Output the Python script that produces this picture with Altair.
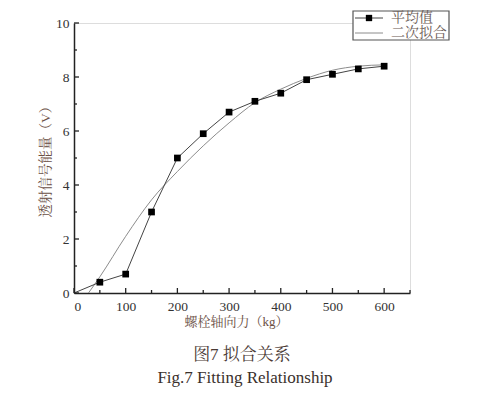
import altair as alt
import pandas as pd

# --- data ---
force = [0, 50, 100, 150, 200, 250, 300, 350, 400, 450, 500, 550, 600]
mean_vals = [0, 0.4, 0.7, 3.0, 5.0, 5.9, 6.7, 7.1, 7.4, 7.9, 8.1, 8.3, 8.4]

fit_force = [28, 50, 100, 150, 200, 250, 300, 350, 400, 450, 500, 550, 600]
fit_vals = [0, 0.6, 2.1, 3.45, 4.5, 5.45, 6.3, 7.05, 7.55, 7.95, 8.25, 8.4, 8.45]

x_major = [0, 100, 200, 300, 400, 500, 600]
x_minor = [50, 150, 250, 350, 450, 550, 650]
y_major = [0, 2, 4, 6, 8, 10]
y_minor = [1, 3, 5, 7, 9]

legend_labels = ["平均值", "二次拟合"]
captions = ["图7  拟合关系", "Fig.7  Fitting  Relationship"]
x_title = "螺栓轴向力（kg）"
y_title = "透射信号能量（V）"

W, H = 336, 270
SERIF = 'Liberation Serif, "Noto Serif CJK SC", "Noto Sans CJK SC", serif'
TITLE_COLOR = "#6b4f45"

xs = alt.Scale(domain=[0, 650], nice=False, zero=False)
ys = alt.Scale(domain=[0, 10], nice=False, zero=False)

x_axis = alt.Axis(values=x_major, title=x_title, ticks=False, grid=False,
                  labelFont=SERIF, labelFontSize=13.5, labelColor="#333",
                  labelPadding=6, titleFont=SERIF, titleFontSize=13,
                  titleFontWeight="normal", titleColor=TITLE_COLOR, titlePadding=3,
                  titleX=W / 2 - 6,
                  domainColor="#222", domainWidth=1.5)
y_axis = alt.Axis(values=y_major, title=y_title, ticks=False, grid=False,
                  labelFont=SERIF, labelFontSize=13.5, labelColor="#333",
                  labelPadding=5, titleFont=SERIF, titleFontSize=13.5,
                  titleFontWeight="normal", titleColor=TITLE_COLOR, titlePadding=3,
                  domainColor="#222", domainWidth=1.5)

mean_df = pd.DataFrame({"f": force, "v": mean_vals})
fit_df = pd.DataFrame({"f": fit_force, "v": fit_vals})

fit_line = alt.Chart(fit_df).mark_line(color="#8c8c8c", strokeWidth=1, interpolate="monotone").encode(
    x=alt.X("f:Q", scale=xs, axis=x_axis),
    y=alt.Y("v:Q", scale=ys, axis=y_axis),
)
mean_line = alt.Chart(mean_df).mark_line(color="#444", strokeWidth=1).encode(
    x=alt.X("f:Q", scale=xs), y=alt.Y("v:Q", scale=ys))
mean_pts = alt.Chart(mean_df[mean_df.f > 0]).mark_point(shape="square", filled=True, color="#000",
                                                         size=45, opacity=1).encode(
    x=alt.X("f:Q", scale=xs), y=alt.Y("v:Q", scale=ys))

# inward ticks
xmaj = alt.Chart(pd.DataFrame({"t": x_major})).mark_rule(color="#222", strokeWidth=1.3).encode(
    x=alt.X("t:Q", scale=xs), y=alt.value(H), y2=alt.value(H - 5))
xmin = alt.Chart(pd.DataFrame({"t": x_minor})).mark_rule(color="#222", strokeWidth=1.3).encode(
    x=alt.X("t:Q", scale=xs), y=alt.value(H), y2=alt.value(H - 3))
ymaj = alt.Chart(pd.DataFrame({"t": y_major})).mark_rule(color="#222", strokeWidth=1.3).encode(
    y=alt.Y("t:Q", scale=ys), x=alt.value(0), x2=alt.value(5))
ymin = alt.Chart(pd.DataFrame({"t": y_minor})).mark_rule(color="#222", strokeWidth=1.3).encode(
    y=alt.Y("t:Q", scale=ys), x=alt.value(0), x2=alt.value(3))

# legend (drawn manually: line + square sample)
LX0, LX1, LY0, LY1 = 279, 375, -12, 17
leg_box = alt.Chart(pd.DataFrame({"a": [0]})).mark_rect(fill="white", stroke="#555", strokeWidth=1.2).encode(
    x=alt.value(LX0), x2=alt.value(LX1), y=alt.value(LY0), y2=alt.value(LY1))
leg_l1 = alt.Chart(pd.DataFrame({"a": [0]})).mark_rule(color="#444", strokeWidth=1).encode(
    x=alt.value(281), x2=alt.value(309), y=alt.value(-5))
leg_p1 = alt.Chart(pd.DataFrame({"a": [0]})).mark_point(shape="square", filled=True, color="#000",
                                                          size=40, opacity=1).encode(
    x=alt.value(295), y=alt.value(-5))
leg_l2 = alt.Chart(pd.DataFrame({"a": [0]})).mark_rule(color="#8c8c8c", strokeWidth=1).encode(
    x=alt.value(281), x2=alt.value(309), y=alt.value(10))
leg_txt = alt.Chart(pd.DataFrame({"lab": legend_labels, "yy": [-5, 10]})).mark_text(
    align="left", baseline="middle", font=SERIF, fontSize=14, color="#6a5a55").encode(
    x=alt.value(317), y=alt.Y("yy:Q", scale=None, axis=None), text="lab:N")

cap_df = pd.DataFrame({"cap": captions, "yy": [H + 62, H + 85]})
cap1 = alt.Chart(cap_df.iloc[[0]]).mark_text(font=SERIF, fontSize=17, color="#4a3a35",
                                              baseline="middle", align="center").encode(
    x=alt.value(W / 2), y=alt.Y("yy:Q", scale=None, axis=None), text="cap:N")
cap2 = alt.Chart(cap_df.iloc[[1]]).mark_text(font=SERIF, fontSize=17, color="#3a302c",
                                              baseline="middle", align="center").encode(
    x=alt.value(W / 2 + 3), y=alt.Y("yy:Q", scale=None, axis=None), text="cap:N")

chart = alt.layer(
    fit_line, mean_line, mean_pts, xmaj, xmin, ymaj, ymin,
    leg_box, leg_l1, leg_p1, leg_l2, leg_txt, cap1, cap2
).resolve_scale(y="shared").properties(
    width=W, height=H,
    autosize=alt.AutoSizeParams(type="none"),
    padding={"left": 66, "top": 15, "right": 80, "bottom": 95},
).configure_view(stroke=None).configure(background="white")

chart.save("out.html", embed_options={"renderer": "svg", "actions": False})
